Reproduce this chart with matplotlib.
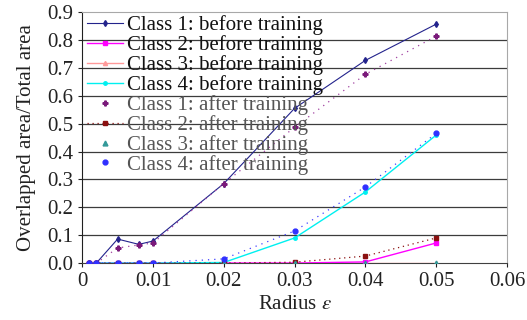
import matplotlib.pyplot as plt

plt.rcParams['font.family'] = ['Liberation Serif', 'DejaVu Serif']
plt.rcParams['mathtext.fontset'] = 'stix'

radius = [0.001, 0.002, 0.005, 0.008, 0.01, 0.02, 0.03, 0.04, 0.05]

before1 = [0.0, 0.0, 0.086, 0.067, 0.079, 0.285, 0.555, 0.727, 0.857]
before2 = [0.0, 0.0, 0.0, 0.0, 0.0, 0.0, 0.0, 0.004, 0.072]
before3 = [0.0, 0.0, 0.0, 0.0, 0.0, 0.0, 0.0, 0.0, 0.0]
before4 = [0.0, 0.0, 0.0, 0.0, 0.0, 0.002, 0.09, 0.255, 0.459]

after1 = [0.0, 0.0, 0.054, 0.065, 0.072, 0.285, 0.487, 0.677, 0.814]
after2 = [0.0, 0.0, 0.0, 0.0, 0.0, 0.0, 0.003, 0.025, 0.09]
after3 = [0.0, 0.0, 0.0, 0.0, 0.0, 0.0, 0.0, 0.0, 0.0]
after4 = [0.0, 0.0, 0.0, 0.0, 0.0, 0.015, 0.115, 0.273, 0.465]

yticks = [0.0, 0.1, 0.2, 0.3, 0.4, 0.5, 0.6, 0.7, 0.8, 0.9]
xticks = [0, 0.01, 0.02, 0.03, 0.04, 0.05, 0.06]
xticklabels = ['0', '0.01', '0.02', '0.03', '0.04', '0.05', '0.06']

fig = plt.figure(figsize=(5.27, 3.2), dpi=100)
ax = fig.add_axes([0.156, 0.178, 0.806, 0.784])

# horizontal grid lines behind everything (legend is transparent over them)
for y in yticks[1:-1]:
    ax.axhline(y, color='#3c3c3c', lw=0.9, zorder=0)

# before training: solid lines
ax.plot(radius, before1, color='#23238c', lw=0.8, marker='d', ms=3, label='Class 1: before training', zorder=3)
ax.plot(radius, before2, color='#ff00ff', lw=1.0, marker='s', ms=3, label='Class 2: before training', zorder=3)
ax.plot(radius, before3, color='#ff9a9a', lw=1.0, marker='^', ms=3, label='Class 3: before training', zorder=2)
ax.plot(radius, before4, color='#00f0f0', lw=1.0, marker='o', ms=2.5, label='Class 4: before training', zorder=3)

# after training: sparse dotted lines, markers in legend
ax.plot(radius, after1, color='#a040a0', lw=0.9, ls=(0, (1, 4)), zorder=3)
ax.plot(radius, after1, color='#7a1a7a', lw=0, marker='P', ms=3.5, label='Class 1: after training', zorder=4)
ax.plot(radius, after2, color='#8b1010', lw=0.9, ls=(0, (1, 3)), marker='s', ms=3.5, label='Class 2: after training', zorder=4)
ax.plot(radius, after3, color='#339999', lw=0, marker='^', ms=3.5, label='Class 3: after training', zorder=4)
ax.plot(radius, after4, color='#4040ff', lw=0.9, ls=(0, (1, 4)), zorder=3)
ax.plot(radius, after4, color='#3030ff', lw=0, marker='o', ms=3.5, label='Class 4: after training', zorder=4)

ax.set_xlim(0, 0.06)
ax.set_ylim(0, 0.9)
ax.set_xticks(xticks)
ax.set_xticklabels(xticklabels)
ax.set_yticks(yticks)
ax.set_yticklabels([f'{v:.1f}' for v in yticks])
ax.tick_params(labelsize=15, colors='#222222', length=3, width=0.8)

for side in ['top', 'right']:
    ax.spines[side].set_color('#a8a8a8')
ax.spines['left'].set_color('#202020')
ax.spines['bottom'].set_color('#404040')

ax.set_xlabel(r'Radius $\varepsilon$', fontsize=15, color='#222222', labelpad=3)
ax.set_ylabel('Overlapped area/Total area', fontsize=15, color='#222222', labelpad=8)

leg = ax.legend(loc='upper left', bbox_to_anchor=(-0.022, 1.045), frameon=False, fontsize=15,
                handlelength=1.7, handletextpad=0.2, labelspacing=0.0, borderaxespad=0.3)
for i, t in enumerate(leg.get_texts()):
    t.set_color('#111111' if i < 4 else '#555555')

fig.savefig('out.png', dpi=100)
